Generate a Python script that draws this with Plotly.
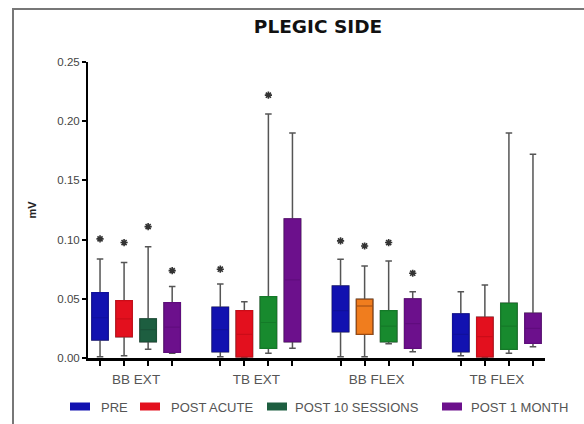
import plotly.graph_objects as go

categories = ["BB EXT", "TB EXT", "BB FLEX", "TB FLEX"]
series = ["PRE", "POST ACUTE", "POST 10 SESSIONS", "POST 1 MONTH"]

# per series: values for the 4 categories
pre_q1 = [0.0152, 0.0053, 0.0222, 0.0053]
pre_med = [0.034, 0.024, 0.040, 0.020]
pre_q3 = [0.0552, 0.0428, 0.0608, 0.0372]
pre_lo = [0.001, 0.001, 0.001, 0.002]
pre_hi = [0.0837, 0.0625, 0.0834, 0.056]
pre_star = [0.1006, 0.075, 0.0989, None]

acute_q1 = [0.018, 0.001, 0.020, 0.001]
acute_med = [0.033, 0.020, 0.0439, 0.018]
acute_q3 = [0.0484, 0.040, 0.0496, 0.0344]
acute_lo = [0.002, 0.0005, 0.001, 0.0005]
acute_hi = [0.0806, 0.0476, 0.0777, 0.0617]
acute_star = [0.0975, None, 0.0946, None]

s10_q1 = [0.0138, 0.0082, 0.0138, 0.0073]
s10_med = [0.024, 0.030, 0.027, 0.027]
s10_q3 = [0.033, 0.0518, 0.040, 0.0462]
s10_lo = [0.0073, 0.004, 0.012, 0.004]
s10_hi = [0.094, 0.206, 0.082, 0.190]
s10_star = [0.111, 0.222, 0.0975, None]

m1_q1 = [0.0048, 0.0138, 0.0082, 0.0124]
m1_med = [0.026, 0.066, 0.029, 0.025]
m1_q3 = [0.0467, 0.1175, 0.0499, 0.0378]
m1_lo = [0.004, 0.0082, 0.0053, 0.0095]
m1_hi = [0.0603, 0.190, 0.056, 0.172]
m1_star = [0.0738, None, 0.0716, None]

legend_colors = ["#1212b0", "#e3101e", "#1d5e40", "#6c108c"]

fills = [
    ["#1212b0"] * 4,
    ["#e3101e", "#e3101e", "#f07d1e", "#e3101e"],
    ["#1d5e40", "#188a2e", "#188a2e", "#188a2e"],
    ["#6c108c"] * 4,
]
lines = [
    ["#10109c"] * 4,
    ["#cc0c18", "#cc0c18", "#9a4a12", "#cc0c18"],
    ["#1a5238", "#147a28", "#147a28", "#147a28"],
    ["#600c7e"] * 4,
]

stats = [
    (pre_q1, pre_med, pre_q3, pre_lo, pre_hi, pre_star),
    (acute_q1, acute_med, acute_q3, acute_lo, acute_hi, acute_star),
    (s10_q1, s10_med, s10_q3, s10_lo, s10_hi, s10_star),
    (m1_q1, m1_med, m1_q3, m1_lo, m1_hi, m1_star),
]

# plot-area geometry in pixels (for paper-coordinate conversions)
L, R, T, B = 88, 545, 62, 358
px = lambda x: (x - L) / (R - L)
py = lambda y: (B - y) / (B - T)

fig = go.Figure()
star_x, star_y = [], []
for si, (q1, med, q3, lo, hi, star) in enumerate(stats):
    for ci in range(len(categories)):
        pos = ci * 5 + si
        # grey whiskers (full box statistics, drawn underneath)
        fig.add_trace(go.Box(
            x=[pos], q1=[q1[ci]], median=[med[ci]], q3=[q3[ci]],
            lowerfence=[lo[ci]], upperfence=[hi[ci]],
            width=0.68, whiskerwidth=0.4,
            fillcolor="rgba(0,0,0,0)",
            line=dict(color="#555", width=1.5),
            name=series[si], showlegend=False, hoverinfo="skip",
        ))
        # coloured box on top
        fig.add_trace(go.Box(
            x=[pos], q1=[q1[ci]], median=[med[ci]], q3=[q3[ci]],
            lowerfence=[q1[ci]], upperfence=[q3[ci]],
            width=0.68, whiskerwidth=0,
            fillcolor=fills[si][ci],
            line=dict(color=lines[si][ci], width=1.2),
            name=series[si], showlegend=False, hoverinfo="skip",
        ))
        if star[ci] is not None:
            star_x.append(pos)
            star_y.append(star[ci])

fig.add_trace(go.Scatter(
    x=star_x, y=star_y, mode="markers", showlegend=False,
    marker=dict(symbol="asterisk-open", size=6, color="#333",
                line=dict(color="#333", width=1.6)),
    hoverinfo="skip",
))

# legend drawn as swatches + text
legend_icon_x = [70, 140, 267, 442]
legend_text_x = [99, 169, 293, 469]
for i, name in enumerate(series):
    fig.add_shape(type="rect", xref="paper", yref="paper",
                  x0=px(legend_icon_x[i]), x1=px(legend_icon_x[i] + 20),
                  y0=py(410.5), y1=py(402.5),
                  line=dict(width=0), fillcolor=legend_colors[i])
    fig.add_annotation(xref="paper", yref="paper", x=px(legend_text_x[i]), y=py(407),
                       xanchor="left", yanchor="middle", showarrow=False, text=name,
                       font=dict(size=13, color="#555"))

box_positions = [ci * 5 + si for ci in range(4) for si in range(4)]
fig.update_layout(
    width=584, height=424,
    margin=dict(l=L, r=584 - R, t=T, b=424 - B, autoexpand=False),
    paper_bgcolor="white", plot_bgcolor="white",
    font=dict(family="Liberation Sans, Arial, sans-serif", color="#333"),
    title=dict(text="<b>PLEGIC SIDE</b>", x=318 / 584, xanchor="center",
               y=1 - 27 / 424, yanchor="middle",
               font=dict(family="DejaVu Sans, sans-serif", size=18.5, color="#111")),
    showlegend=False,
    boxmode="overlay",
    xaxis=dict(range=[-0.5, 18.5], showgrid=False, zeroline=False,
               tickvals=[1.5, 6.5, 11.5, 16.5], ticktext=categories,
               ticks="", tickfont=dict(size=13.5, color="#555"), ticklabelstandoff=7,
               showline=True, linecolor="black", linewidth=3,
               minor=dict(tickvals=box_positions, ticks="outside", ticklen=5,
                          tickcolor="black", tickwidth=1.5)),
    yaxis=dict(range=[0, 0.25], dtick=0.05, tickformat=".2f", showgrid=False,
               zeroline=False, ticks="outside", ticklen=4, tickwidth=1.5,
               tickcolor="black", showline=True, linecolor="black", linewidth=2,
               tickfont=dict(size=11.5, color="#444"),
               title=dict(text="<b>mV</b>", font=dict(size=11, color="#222"), standoff=18)),
)

# outer frame of the figure panel
fig.add_shape(type="rect", xref="paper", yref="paper",
              x0=px(13), x1=px(600), y0=py(440), y1=py(9),
              line=dict(color="#777", width=2), fillcolor="rgba(0,0,0,0)", layer="below")

fig.write_html("out.html")
